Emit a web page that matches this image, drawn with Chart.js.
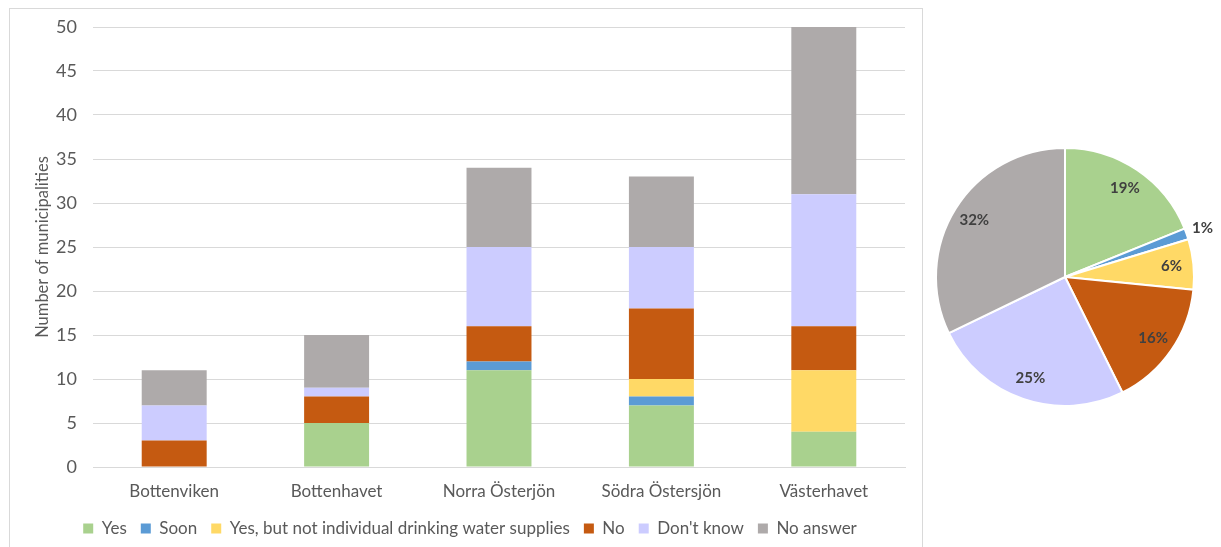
<!DOCTYPE html>
<html>
<head>
<meta charset="utf-8">
<script src="https://cdn.jsdelivr.net/npm/chart.js@4/dist/chart.umd.min.js"></script>
<style>
  body { margin: 0; background: #fff; width: 1221px; height: 547px; overflow: hidden; position: relative; }
  #barBox { position: absolute; left: 9px; top: 8px; width: 912px; height: 560px; border: 1px solid #d9d9d9; }
  #barChart { position: absolute; left: 0; top: 0; }
  #pieChart { position: absolute; left: 915px; top: 127px; }
</style>
</head>
<body>
<div id="barBox"><canvas id="barChart" width="920" height="538"></canvas></div>
<canvas id="pieChart" width="300" height="300"></canvas>
<script>
const regions = ['Bottenviken', 'Bottenhavet', 'Norra Österjön', 'Södra Östersjön', 'Västerhavet'];
const answers = ['Yes', 'Soon', 'Yes, but not individual drinking water supplies', 'No', "Don't know", 'No answer'];
const yes       = [0, 5, 11, 7, 4];
const soon      = [0, 0, 1, 1, 0];
const yesBut    = [0, 0, 0, 2, 7];
const no        = [3, 3, 4, 8, 5];
const dontKnow  = [4, 1, 9, 7, 15];
const noAnswer  = [4, 6, 9, 8, 19];
const yTicks    = [0, 5, 10, 15, 20, 25, 30, 35, 40, 45, 50];

const colors = ['#a9d18e', '#5b9bd5', '#ffd966', '#c55a11', '#ccccff', '#aeaaaa'];
const series = [yes, soon, yesBut, no, dontKnow, noAnswer];
const textColor = '#595959';
const fontFamily = 'Lato, "Open Sans", sans-serif';

Chart.defaults.font.family = fontFamily;
Chart.defaults.color = textColor;

new Chart(document.getElementById('barChart'), {
  type: 'bar',
  data: {
    labels: regions,
    datasets: series.map((vals, i) => ({
      label: answers[i],
      data: vals,
      backgroundColor: colors[i],
      borderWidth: 0,
      categoryPercentage: 1,
      barPercentage: 0.4
    }))
  },
  options: {
    responsive: false,
    devicePixelRatio: 1,
    animation: false,
    layout: { padding: 0 },
    plugins: {
      tooltip: { enabled: false },
      legend: {
        position: 'bottom',
        labels: {
          boxWidth: 10,
          boxHeight: 10,
          padding: 14,
          font: { size: 17 },
          color: textColor
        }
      }
    },
    scales: {
      x: {
        stacked: true,
        grid: { display: false, drawTicks: false },
        border: { color: '#d9d9d9' },
        ticks: { font: { size: 17 }, color: textColor, padding: 14 },
        afterFit: s => {
          s.height = 39;
          s.paddingLeft = 0;
          s.paddingRight = 25;
        }
      },
      y: {
        stacked: true,
        min: 0,
        max: 50,
        afterBuildTicks: s => { s.ticks = yTicks.map(v => ({ value: v })); },
        afterFit: s => {
          s.width = 83;
          s.paddingTop = 18;
          s.paddingBottom = 0;
        },
        grid: { color: '#d9d9d9', drawTicks: false },
        border: { display: false },
        ticks: { font: { size: 18 }, color: textColor, padding: 16 },
        title: {
          display: true,
          text: 'Number of municipalities',
          font: { size: 16.5 },
          color: textColor,
          padding: { top: 23 }
        }
      }
    }
  }
});

// pie: share of all answers across the regions
const totals = series.map(vals => vals.reduce((a, b) => a + b, 0));
const grand = totals.reduce((a, b) => a + b, 0);

const pctLabels = {
  id: 'pctLabels',
  afterDatasetsDraw(chart) {
    const ctx = chart.ctx;
    const meta = chart.getDatasetMeta(0);
    ctx.save();
    ctx.font = 'bold 15px ' + fontFamily;
    ctx.fillStyle = '#404040';
    ctx.textAlign = 'center';
    ctx.textBaseline = 'middle';
    meta.data.forEach((arc, i) => {
      const pct = Math.round(totals[i] / grand * 100);
      const mid = (arc.startAngle + arc.endAngle) / 2;
      const r = pct < 3 ? arc.outerRadius + 17 : arc.outerRadius * 0.83;
      ctx.fillText(pct + '%', arc.x + Math.cos(mid) * r, arc.y + Math.sin(mid) * r);
    });
    ctx.restore();
  }
};

new Chart(document.getElementById('pieChart'), {
  type: 'pie',
  data: {
    labels: answers,
    datasets: [{
      data: totals,
      backgroundColor: colors,
      borderColor: '#ffffff',
      borderWidth: 2
    }]
  },
  options: {
    responsive: false,
    devicePixelRatio: 1,
    animation: false,
    layout: { padding: 20 },
    plugins: {
      legend: { display: false },
      tooltip: { enabled: false }
    }
  },
  plugins: [pctLabels]
});
</script>
</body>
</html>
